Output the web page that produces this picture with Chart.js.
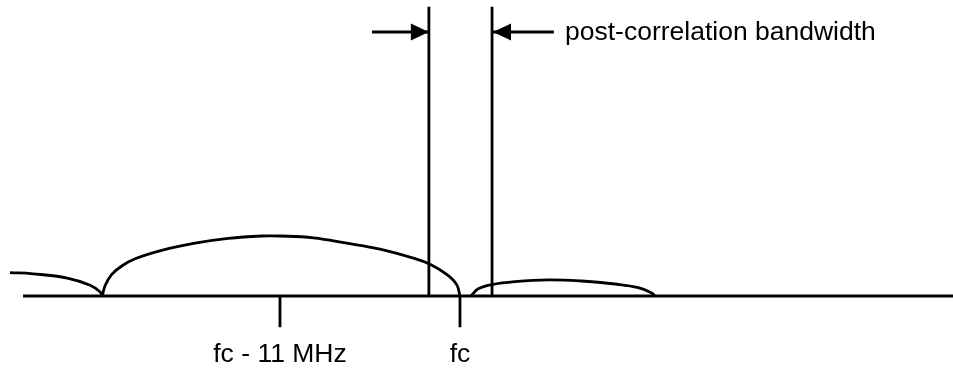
<!DOCTYPE html>
<html>
<head>
<meta charset="utf-8">
<script src="https://cdn.jsdelivr.net/npm/chart.js@4.4.0/dist/chart.umd.min.js"></script>
<style>
  html, body { margin: 0; padding: 0; background: #fff; }
  #wrap { width: 953px; height: 370px; }
</style>
</head>
<body>
<div id="wrap"><canvas id="myChart" width="953" height="370"></canvas></div>
<script>
// frequencies are offsets from fc in MHz, amplitudes relative to the main lobe peak
const leftLobeFreq = [-27.5, -26.1, -24.0, -22.6, -22.0, -21.86];
const leftLobeAmp = [0.39, 0.37, 0.30, 0.18, 0.07, 0];

const mainLobeFreq = [-21.86, -21.69, -21.28, -20.67, -19.85, -18.23, -16.19, -14.16, -12.12, -11, -8.96, -6.92, -4.89, -2.85, -1.83, -0.81, -0.2, 0];
const mainLobeAmp = [0, 0.17, 0.36, 0.5, 0.62, 0.76, 0.88, 0.96, 1.0, 1.0, 0.97, 0.88, 0.78, 0.63, 0.53, 0.36, 0.19, 0];

const sideLobeFreq = [0.67, 1.12, 1.94, 3.36, 5.4, 7.44, 9.47, 10.9, 11.71, 11.92];
const sideLobeAmp = [0, 0.12, 0.19, 0.24, 0.27, 0.25, 0.2, 0.14, 0.05, 0];

const baselineFreq = [-26.7, 30.2];
const bandEdges = [-1.9, 1.96];
const bandTop = 4.82;

const tickFreq = [-11, 0];
const tickLabels = ["fc - 11 MHz", "fc"];
const tickDepth = -0.52;

const arrowLevel = 4.4;
const arrowIn = [[-5.38, -1.9], [5.74, 2.02]];
const bandLabel = "post-correlation bandwidth";
const bandLabelAt = [6.42, 4.27];

const ink = "#000";
const font = "26.5px 'Liberation Sans', Arial, sans-serif";

function pts(xs, ys) {
  return xs.map((x, i) => ({ x: x, y: ys[i] }));
}

function lineSet(data, extra) {
  return Object.assign({
    data: data,
    borderColor: ink,
    borderWidth: 2.8,
    pointRadius: 0,
    fill: false,
    clip: false
  }, extra || {});
}

const curve = { tension: 0.4 };
const datasets = [
  lineSet(pts(baselineFreq, [0, 0])),
  lineSet(pts(leftLobeFreq, leftLobeAmp), curve),
  lineSet(pts(mainLobeFreq, mainLobeAmp), curve),
  lineSet(pts(sideLobeFreq, sideLobeAmp), curve)
];
bandEdges.forEach((f) => datasets.push(lineSet(pts([f, f], [0, bandTop]))));
tickFreq.forEach((f) => datasets.push(lineSet(pts([f, f], [0, tickDepth]))));
arrowIn.forEach((a) => datasets.push(lineSet(pts(a, [arrowLevel, arrowLevel]), { arrow: true })));

// arrow heads and text
const annotate = {
  id: "annotate",
  afterDatasetsDraw(chart) {
    const ctx = chart.ctx;
    const xs = chart.scales.x;
    const ys = chart.scales.y;
    ctx.save();
    ctx.fillStyle = ink;
    chart.data.datasets.forEach((ds, i) => {
      if (!ds.arrow) return;
      const el = chart.getDatasetMeta(i).data;
      const a = el[0], b = el[el.length - 1];
      const ang = Math.atan2(b.y - a.y, b.x - a.x);
      ctx.save();
      ctx.translate(b.x, b.y);
      ctx.rotate(ang);
      ctx.beginPath();
      ctx.moveTo(0, 0);
      ctx.lineTo(-18, -8.5);
      ctx.lineTo(-18, 8.5);
      ctx.closePath();
      ctx.fill();
      ctx.restore();
    });
    ctx.font = font;
    ctx.textBaseline = "alphabetic";
    ctx.textAlign = "center";
    tickFreq.forEach((f, i) => {
      ctx.fillText(tickLabels[i], xs.getPixelForValue(f), 362);
    });
    ctx.textAlign = "left";
    ctx.fillText(bandLabel, xs.getPixelForValue(bandLabelAt[0]), ys.getPixelForValue(bandLabelAt[1]));
    ctx.restore();
  }
};

new Chart(document.getElementById("myChart").getContext("2d"), {
  type: "line",
  data: { datasets: datasets },
  options: {
    responsive: false,
    animation: false,
    devicePixelRatio: 1,
    layout: { padding: 0 },
    plugins: { legend: { display: false }, tooltip: { enabled: false } },
    scales: {
      x: { type: "linear", min: -28.11, max: 30.13, display: false },
      y: { type: "linear", min: -1.233, max: 4.933, display: false }
    }
  },
  plugins: [annotate]
});
</script>
</body>
</html>
